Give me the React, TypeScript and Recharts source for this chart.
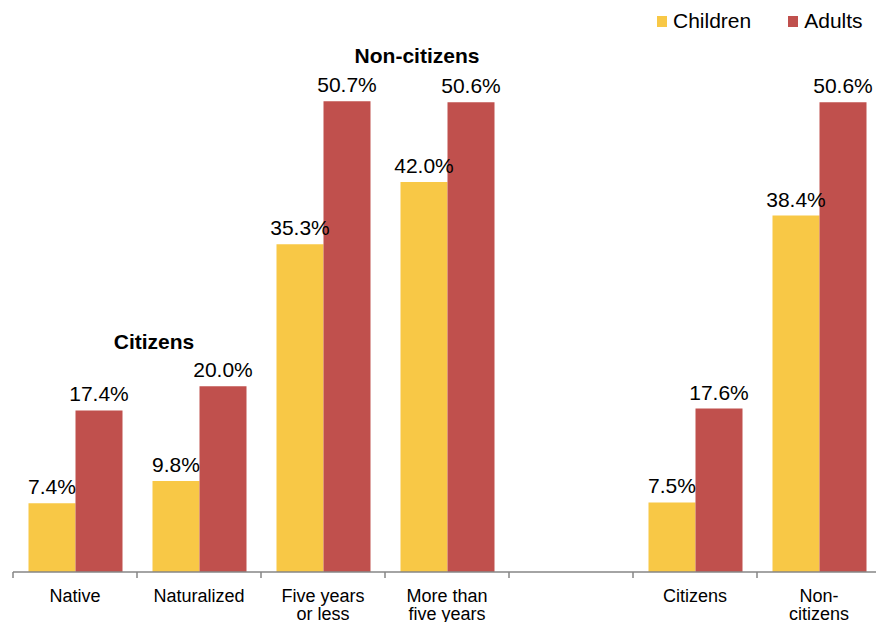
import { Bar, BarChart, LabelList, XAxis, YAxis } from 'recharts';

const categories = [
  'Native',
  'Naturalized',
  'Five years\nor less',
  'More than\nfive years',
  '',
  'Citizens',
  'Non-\ncitizens',
];
const children = [7.4, 9.8, 35.3, 42.0, null, 7.5, 38.4];
const adults = [17.4, 20.0, 50.7, 50.6, null, 17.6, 50.6];
const seriesNames = ['Children', 'Adults'];

const CHILD_COLOR = '#F8C846';
const ADULT_COLOR = '#C0504D';
const AXIS_COLOR = '#868686';
const FONT = 'Arial, "Liberation Sans", Helvetica, sans-serif';

const CHART_W = 890;
const CHART_H = 622;
const MARGIN = { top: 15, right: 9, left: 13, bottom: 0 };
const BAND = (CHART_W - MARGIN.left - MARGIN.right) / categories.length;

const data = categories.map((name, i) => ({
  name,
  children: children[i],
  adults: adults[i],
}));

const fmt = (v: unknown) => (v == null ? '' : `${Number(v).toFixed(1)}%`);

const CategoryTick = (props: any) => {
  const { x, y, payload, index } = props;
  const lines = String(payload.value).split('\n');
  const axisY = y - 8;
  return (
    <g>
      <line x1={x - BAND / 2} x2={x - BAND / 2} y1={axisY} y2={axisY + 6} stroke={AXIS_COLOR} strokeWidth={1.5} />
      {index === categories.length - 1 && (
        <line x1={x + BAND / 2} x2={x + BAND / 2} y1={axisY} y2={axisY + 6} stroke={AXIS_COLOR} strokeWidth={1.5} />
      )}
      <text x={x} y={axisY + 30} textAnchor="middle" fontSize={18} fill="#000" fontFamily={FONT}>
        {lines.map((l, i) => (
          <tspan key={i} x={x} dy={i === 0 ? 0 : 18}>
            {l}
          </tspan>
        ))}
      </text>
    </g>
  );
};

export default function App() {
  return (
    <div
      style={{
        position: 'absolute',
        left: 0,
        top: 0,
        width: 876,
        height: 622,
        overflow: 'hidden',
        background: '#fff',
      }}
    >
      <BarChart
        width={CHART_W}
        height={CHART_H}
        data={data}
        margin={MARGIN}
        barCategoryGap="12.5%"
        barGap={0}
      >
        <XAxis
          dataKey="name"
          interval={0}
          height={50}
          tickLine={false}
          axisLine={{ stroke: AXIS_COLOR, strokeWidth: 1.5 }}
          tick={<CategoryTick />}
        />
        <YAxis hide domain={[0, 60]} />
        <Bar dataKey="children" name={seriesNames[0]} fill={CHILD_COLOR} isAnimationActive={false}>
          <LabelList
            dataKey="children"
            position="top"
            offset={9}
            formatter={fmt}
            style={{ fontSize: 21, fill: '#000', fontFamily: FONT }}
          />
        </Bar>
        <Bar dataKey="adults" name={seriesNames[1]} fill={ADULT_COLOR} isAnimationActive={false}>
          <LabelList
            dataKey="adults"
            position="top"
            offset={9}
            formatter={fmt}
            style={{ fontSize: 21, fill: '#000', fontFamily: FONT }}
          />
        </Bar>
      </BarChart>
      <div
        style={{
          position: 'absolute',
          left: 657,
          top: 9,
          display: 'flex',
          fontFamily: FONT,
          fontSize: 21,
          lineHeight: '24px',
          color: '#000',
        }}
      >
        <div style={{ display: 'flex', alignItems: 'center', marginRight: 37 }}>
          <span style={{ width: 10, height: 11, background: CHILD_COLOR, marginRight: 6 }} />
          {seriesNames[0]}
        </div>
        <div style={{ display: 'flex', alignItems: 'center' }}>
          <span style={{ width: 10, height: 11, background: ADULT_COLOR, marginRight: 6 }} />
          {seriesNames[1]}
        </div>
      </div>
      <div
        style={{
          position: 'absolute',
          left: 154,
          top: 330,
          transform: 'translateX(-50%)',
          fontFamily: FONT,
          fontSize: 21,
          fontWeight: 'bold',
          lineHeight: '24px',
        }}
      >
        Citizens
      </div>
      <div
        style={{
          position: 'absolute',
          left: 417,
          top: 44,
          transform: 'translateX(-50%)',
          fontFamily: FONT,
          fontSize: 21,
          fontWeight: 'bold',
          lineHeight: '24px',
          whiteSpace: 'nowrap',
        }}
      >
        Non-citizens
      </div>
    </div>
  );
}
